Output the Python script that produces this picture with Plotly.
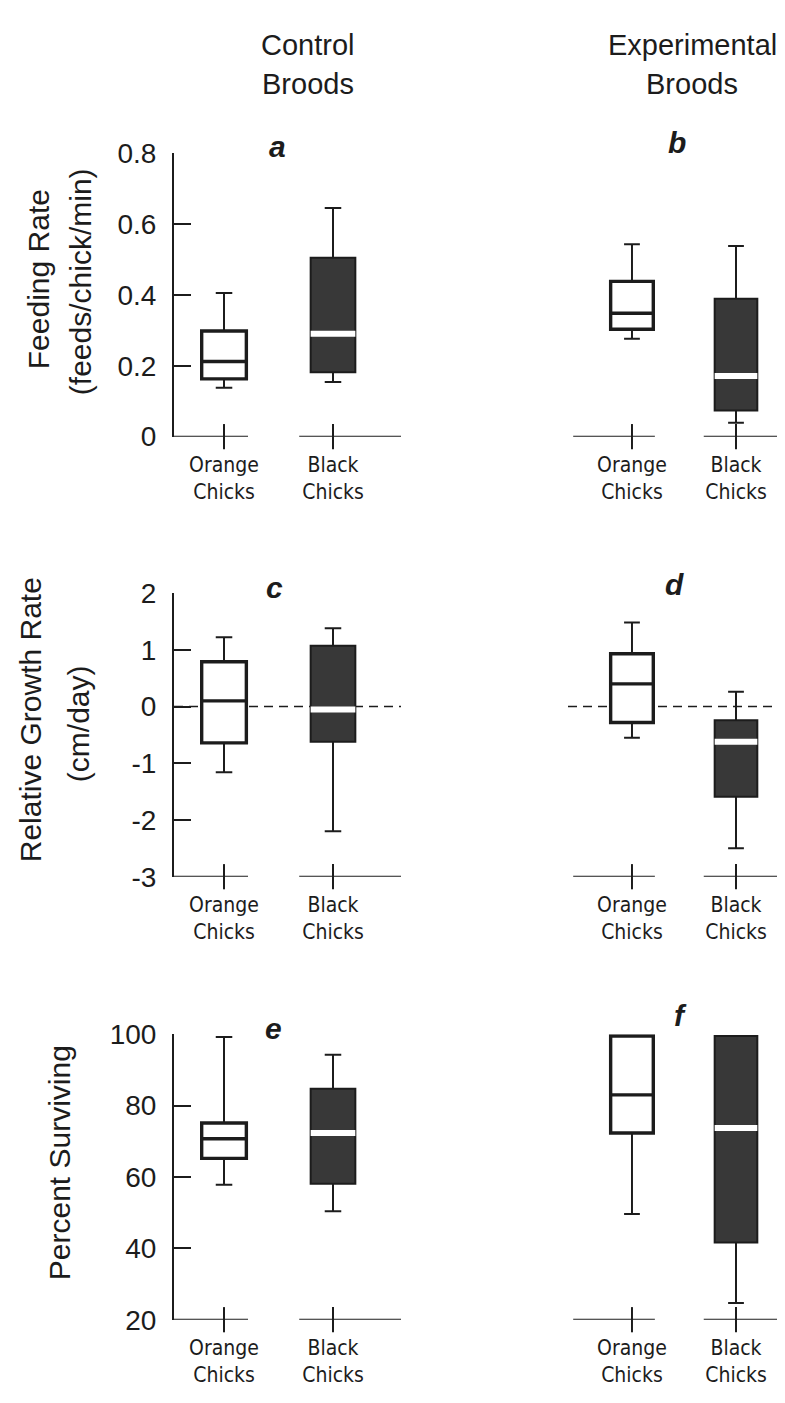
import plotly.graph_objects as go

W, H = 785, 1403

# ---- data: [lower whisker, q1, median, q3, upper whisker] ----
categories = ["Orange<br>Chicks", "Black<br>Chicks"]
cat_pos = [0, 1]

feed_ctrl_orange = [0.138, 0.163, 0.212, 0.298, 0.405]
feed_ctrl_black = [0.154, 0.182, 0.290, 0.505, 0.645]
feed_exp_orange = [0.276, 0.303, 0.348, 0.438, 0.543]
feed_exp_black = [0.039, 0.074, 0.171, 0.389, 0.538]

growth_ctrl_orange = [-1.16, -0.64, 0.10, 0.79, 1.22]
growth_ctrl_black = [-2.20, -0.62, -0.05, 1.07, 1.38]
growth_exp_orange = [-0.55, -0.28, 0.40, 0.93, 1.48]
growth_exp_black = [-2.50, -1.59, -0.62, -0.24, 0.26]

surv_ctrl_orange = [57.8, 65.2, 70.7, 75.1, 99.2]
surv_ctrl_black = [50.4, 58.1, 72.3, 84.7, 94.2]
surv_exp_orange = [49.6, 72.3, 83.0, 99.5, 99.5]
surv_exp_black = [24.7, 41.6, 73.7, 99.5, 99.5]

feed_ticks = [0, 0.2, 0.4, 0.6, 0.8]
feed_ticktext = ["0", "0.2", "0.4", "0.6", "0.8"]
growth_ticks = [-3, -2, -1, 0, 1, 2]
growth_ticktext = ["-3", "-2", "-1", "0", "1", "2"]
surv_ticks = [20, 40, 60, 80, 100]
surv_ticktext = ["20", "40", "60", "80", "100"]

panels = [
    # (xaxis id, yaxis id, orange stats, black stats, y range, side, letter)
    ("x", "y", feed_ctrl_orange, feed_ctrl_black, [0, 0.8], "L", "a"),
    ("x2", "y2", feed_exp_orange, feed_exp_black, [0, 0.8], "R", "b"),
    ("x3", "y3", growth_ctrl_orange, growth_ctrl_black, [-3, 2], "L", "c"),
    ("x4", "y4", growth_exp_orange, growth_exp_black, [-3, 2], "R", "d"),
    ("x5", "y5", surv_ctrl_orange, surv_ctrl_black, [20, 100], "L", "e"),
    ("x6", "y6", surv_exp_orange, surv_exp_black, [20, 100], "R", "f"),
]

# ---- layout geometry (pixels) ----
left_px = (166, 393)
right_px = (560, 785)
left_range = [-0.459, 1.624]
right_range = [-0.615, 1.548]
rows_px = [(133, 423), (583, 873), (1034, 1326)]  # top, bottom

BOXW = 0.41
WHW = 0.37
INK = "#1c1c1c"
DARK = "#383838"

fig = go.Figure()
shapes = []
annotations = []
layout = {}

for i, (xa, ya, orng, blk, yr, side, letter) in enumerate(panels):
    row = i // 2
    top, bot = rows_px[row]
    xpx = left_px if side == "L" else right_px
    xr = left_range if side == "L" else right_range
    xkey = "xaxis" + xa[1:]
    ykey = "yaxis" + ya[1:]

    # orange: whiskers (thin)
    fig.add_trace(go.Box(x=[cat_pos[0]], q1=[orng[1]], median=[orng[2]], q3=[orng[3]],
                         lowerfence=[orng[0]], upperfence=[orng[4]],
                         width=BOXW, whiskerwidth=WHW, fillcolor="white",
                         line=dict(color=INK, width=2), boxpoints=False,
                         xaxis=xa, yaxis=ya, showlegend=False, hoverinfo="skip"))
    # orange: box (thick)
    fig.add_trace(go.Box(x=[cat_pos[0]], q1=[orng[1]], median=[orng[2]], q3=[orng[3]],
                         lowerfence=[orng[1]], upperfence=[orng[3]],
                         width=BOXW, whiskerwidth=0, fillcolor="white",
                         line=dict(color=INK, width=3.4), boxpoints=False,
                         xaxis=xa, yaxis=ya, showlegend=False, hoverinfo="skip"))
    # black: filled box + whiskers
    fig.add_trace(go.Box(x=[cat_pos[1]], q1=[blk[1]], median=[blk[2]], q3=[blk[3]],
                         lowerfence=[blk[0]], upperfence=[blk[4]],
                         width=BOXW, whiskerwidth=WHW, fillcolor=DARK,
                         line=dict(color=INK, width=2), boxpoints=False,
                         xaxis=xa, yaxis=ya, showlegend=False, hoverinfo="skip"))
    # black: white median gap
    fig.add_trace(go.Box(x=[cat_pos[1]], q1=[blk[2]], median=[blk[2]], q3=[blk[2]],
                         lowerfence=[blk[2]], upperfence=[blk[2]],
                         width=BOXW, whiskerwidth=0, fillcolor="rgba(0,0,0,0)",
                         line=dict(color="white", width=6), boxpoints=False,
                         xaxis=xa, yaxis=ya, showlegend=False, hoverinfo="skip"))
    # cross ticks on the x axis
    fig.add_trace(go.Scatter(x=cat_pos, y=[yr[0]] * 2, mode="markers",
                             marker=dict(symbol="line-ns", size=18,
                                         line=dict(color=INK, width=2)),
                             cliponaxis=False, xaxis=xa, yaxis=ya,
                             showlegend=False, hoverinfo="skip"))

    # broken x-axis segments
    x0_seg1 = xr[0] if side == "L" else xr[0] + 0.05
    segs = [(x0_seg1, cat_pos[0] + 0.22), (cat_pos[1] - 0.31, xr[1])]
    for s0, s1 in segs:
        shapes.append(dict(type="line", xref=xa, yref=ya, x0=s0, x1=s1,
                           y0=yr[0], y1=yr[0], line=dict(color=INK, width=2)))

    if row == 1:
        shapes.append(dict(type="line", xref=xa + " domain", yref=ya, x0=0, x1=1,
                           y0=0, y1=0, layer="below",
                           line=dict(color=INK, width=1.6, dash="9px,6px")))

    if row == 0:
        ticks, ttext = feed_ticks, feed_ticktext
    elif row == 1:
        ticks, ttext = growth_ticks, growth_ticktext
    else:
        ticks, ttext = surv_ticks, surv_ticktext

    layout[xkey] = dict(domain=[xpx[0] / W, xpx[1] / W], range=xr, anchor=ya,
                        showgrid=False, zeroline=False, showline=False,
                        tickvals=cat_pos, ticktext=categories, ticks="",
                        ticklabelstandoff=13,
                        tickfont=dict(family="Liberation Sans Narrow, DejaVu Sans Condensed, Arial Narrow, sans-serif",
                                      size=21, color=INK),
                        fixedrange=True)
    layout[ykey] = dict(domain=[(H - bot) / H, (H - top) / H], range=yr, anchor=xa,
                        showgrid=False, zeroline=False,
                        showline=(side == "L"), linecolor=INK, linewidth=2,
                        ticks="inside" if side == "L" else "", ticklen=17,
                        tickwidth=2, tickcolor=INK,
                        tickvals=ticks, ticktext=ttext,
                        showticklabels=(side == "L"), ticklabelstandoff=10,
                        tickfont=dict(family="Liberation Sans, Arial, sans-serif",
                                      size=28, color=INK),
                        fixedrange=True)

# panel letters
letter_pos = {"a": (269, 126), "b": (669, 122), "c": (266, 577),
              "d": (666, 574), "e": (265, 1028), "f": (672, 1015)}
for let, (px, py) in letter_pos.items():
    annotations.append(dict(text="<b><i>%s</i></b>" % let, x=px / W, y=1 - py / H,
                            xref="paper", yref="paper", showarrow=False,
                            xanchor="center", yanchor="middle",
                            font=dict(family="Liberation Sans, Arial, sans-serif",
                                      size=30, color=INK)))

# column headers
headers = [("Control", 300, 22), ("Broods", 300, 62),
           ("Experimental", 684, 22), ("Broods", 684, 62)]
for txt, px, py in headers:
    annotations.append(dict(text=txt, x=px / W, y=1 - py / H, xref="paper", yref="paper",
                            showarrow=False, xanchor="center", yanchor="middle",
                            font=dict(family="Liberation Sans, Arial, sans-serif",
                                      size=29, color=INK)))

# y-axis titles
ytitles = [("Feeding Rate", 30, 262), ("(feeds/chick/min)", 72, 265),
           ("Relative Growth Rate", 22, 713), ("(cm/day)", 70, 717),
           ("Percent Surviving", 51, 1166)]
for txt, px, py in ytitles:
    annotations.append(dict(text=txt, x=px / W, y=1 - py / H, xref="paper", yref="paper",
                            showarrow=False, xanchor="center", yanchor="middle",
                            textangle=-90,
                            font=dict(family="Liberation Sans, Arial, sans-serif",
                                      size=30, color=INK)))

fig.update_layout(width=W, height=H, margin=dict(l=0, r=0, t=0, b=0),
                  paper_bgcolor="white", plot_bgcolor="white",
                  showlegend=False, boxmode="overlay",
                  shapes=shapes, annotations=annotations, **layout)

fig.write_html("out.html")
